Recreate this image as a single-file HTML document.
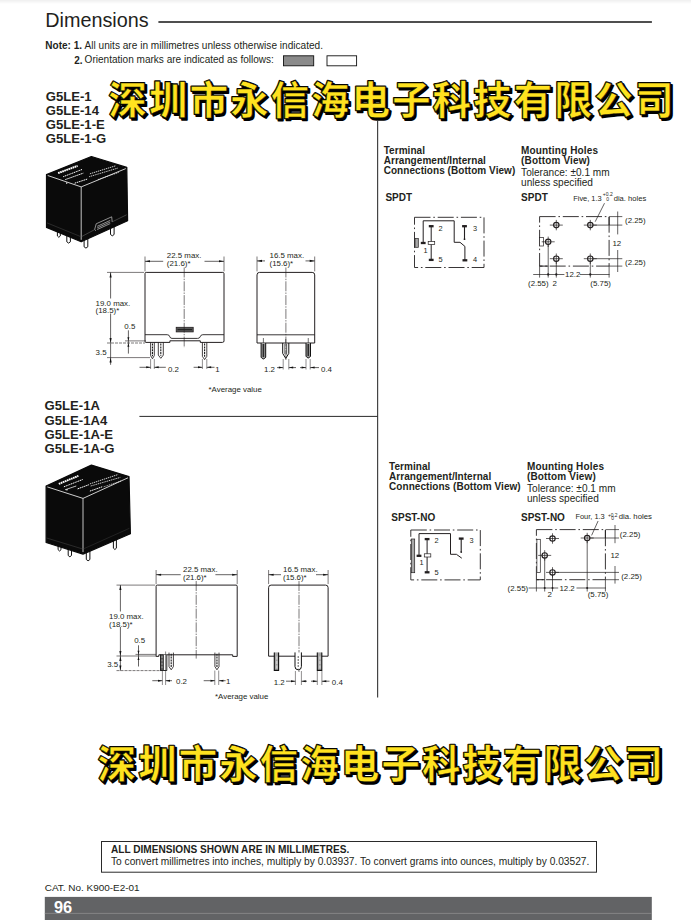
<!DOCTYPE html>
<html><head><meta charset="utf-8"><title>Dimensions</title>
<style>
html,body{margin:0;padding:0;background:#fff;}
body{width:691px;height:920px;position:relative;overflow:hidden;font-family:"Liberation Sans",sans-serif;color:#231f20;}
.t{position:absolute;white-space:nowrap;}
svg{position:absolute;left:0;top:0;}
svg text{font-family:"Liberation Sans",sans-serif;}
svg text.wm{font-family:"Liberation Sans","Noto Sans CJK SC",sans-serif;font-weight:bold;font-size:38.2px;letter-spacing:2.33px;}
</style></head><body>
<svg width="691" height="920" viewBox="0 0 691 920">
<defs><linearGradient id="tg" x1="0" y1="0" x2="0" y2="1"><stop offset="0" stop-color="#efefef"/><stop offset="1" stop-color="#fff"/></linearGradient></defs>
<rect x="0" y="0" width="691" height="4" fill="url(#tg)"/>
<line x1="158.4" y1="22.05" x2="651.9" y2="22.05" stroke="#141414" stroke-width="1.4" /><rect x="283.5" y="55.8" width="30.2" height="10.0" stroke="#111" stroke-width="0.9" fill="#8a8a8a" /><rect x="327.0" y="55.8" width="29.6" height="10.0" stroke="#111" stroke-width="0.9" fill="#fff" /><line x1="377.65" y1="121.0" x2="377.65" y2="697.4" stroke="#2a2a2a" stroke-width="1.05" /><line x1="139.4" y1="416.4" x2="377.65" y2="416.4" stroke="#2a2a2a" stroke-width="1.0" /><rect x="101.5" y="841.5" width="495.0" height="30.7" stroke="#2a2a2a" stroke-width="1.0" fill="none" /><rect x="44.8" y="896.9" width="607" height="24" fill="#626365"/><rect x="44.8" y="912.9" width="607" height="0.8" fill="#8e8e8e"/>
<path d="M57.4,228 V236.0 q1.45,2.6 2.90,0 V228" fill="#fff" stroke="#111" stroke-width="1"/><path d="M66.8,232 V241.8 q1.80,2.6 3.60,0 V232" fill="#fff" stroke="#111" stroke-width="1"/><path d="M84.1,236 V246.8 q1.85,2.6 3.70,0 V236" fill="#fff" stroke="#111" stroke-width="1"/><path d="M110.5,222 V234.5 q1.80,2.6 3.60,0 V222" fill="#fff" stroke="#111" stroke-width="1"/><polygon points="46.5,174.6 91.4,156.5 126.8,167.4 127.6,220.8 81.2,241.8 46.5,227.4" fill="#0a0a0a" stroke="#0a0a0a" stroke-width="1.2" stroke-linejoin="round"/><path d="M47.7,175.5 L81.2,186.9 L125.8,168.6" fill="none" stroke="#fff" stroke-width="0.8"/><path d="M81.2,186.9 V239.8" fill="none" stroke="#f2f2f2" stroke-width="0.8"/><line x1="58.1" y1="173.1" x2="77.6" y2="165.9" stroke="#fff" stroke-width="1.9" stroke-dasharray="1.7 0.5"/><line x1="63.2" y1="176.7" x2="82.0" y2="169.5" stroke="#fff" stroke-width="1.0" stroke-dasharray="1.3 0.6"/><line x1="65.3" y1="179.6" x2="83.4" y2="173.1" stroke="#fff" stroke-width="1.0" stroke-dasharray="1.5 0.6"/><line x1="89.9" y1="173.8" x2="115.3" y2="165.9" stroke="#fff" stroke-width="0.8" stroke-dasharray="1.4 0.7"/><line x1="89.2" y1="176.7" x2="118.1" y2="168.0" stroke="#fff" stroke-width="0.8" stroke-dasharray="1.2 0.7"/><line x1="74.7" y1="183.2" x2="87.8" y2="178.9" stroke="#fff" stroke-width="1.0" stroke-dasharray="1.6 0.7"/><line x1="97.9" y1="179.6" x2="118.9" y2="172.4" stroke="#fff" stroke-width="0.7" stroke-dasharray="1.1 0.8"/><line x1="66.0" y1="183.3" x2="67.3" y2="182.9" stroke="#fff" stroke-width="1.2" /><path d="M47.0,222.9 L81.2,236.8" fill="none" stroke="#4a4a4a" stroke-width="0.5"/><path d="M94.7,229.3 l1.5,-5.5 l15.5,-7 l0.5,5.2 M95.7,230.8 l-1,-1.5 M97.2,226.3 l13,-5.9 M97.2,227.9 l13,-5.9 M97.2,229.5 l13,-5.9" stroke="#e6e6e6" stroke-width="0.6" fill="none"/><path d="M81.2,236.8 L94.7,229.6 M112.5,221.7 L126.6,214.8" stroke="#777" stroke-width="0.5" fill="none"/>
<path d="M58.1,540 V549.7 q1.45,2.6 2.90,0 V540" fill="#fff" stroke="#111" stroke-width="1"/><path d="M68.2,545 V555.5 q1.65,2.6 3.30,0 V545" fill="#fff" stroke="#111" stroke-width="1"/><path d="M86.3,548 V559.5 q1.80,2.6 3.60,0 V548" fill="#fff" stroke="#111" stroke-width="1"/><path d="M113.4,530 V548.2 q1.50,2.6 3.00,0 V530" fill="#fff" stroke="#111" stroke-width="1"/><polygon points="46.1,486.0 91.4,465.1 129.0,476.6 130.4,533.8 83.0,554.1 46.1,542.5" fill="#0a0a0a" stroke="#0a0a0a" stroke-width="1.2" stroke-linejoin="round"/><path d="M47.3,486.9 L83.0,498.4 L128.0,477.8" fill="none" stroke="#fff" stroke-width="0.8"/><path d="M83.0,498.4 V552.1" fill="none" stroke="#f2f2f2" stroke-width="0.8"/><line x1="58.8" y1="483.9" x2="78.4" y2="475.9" stroke="#fff" stroke-width="1.9" stroke-dasharray="1.7 0.5"/><line x1="63.9" y1="486.8" x2="82.7" y2="479.5" stroke="#fff" stroke-width="1.0" stroke-dasharray="1.3 0.6"/><line x1="65.3" y1="489.7" x2="76.2" y2="486.0" stroke="#fff" stroke-width="1.0" stroke-dasharray="1.5 0.6"/><line x1="77.6" y1="488.9" x2="89.2" y2="484.6" stroke="#fff" stroke-width="1.0" stroke-dasharray="1.5 0.6"/><line x1="89.9" y1="483.9" x2="118.1" y2="474.5" stroke="#fff" stroke-width="0.8" stroke-dasharray="1.4 0.7"/><line x1="90.7" y1="486.0" x2="120.3" y2="477.4" stroke="#fff" stroke-width="0.8" stroke-dasharray="1.2 0.7"/><line x1="89.9" y1="491.1" x2="102.2" y2="486.8" stroke="#fff" stroke-width="1.0" stroke-dasharray="1.6 0.7"/><line x1="103.7" y1="486.8" x2="121.0" y2="481.0" stroke="#fff" stroke-width="0.7" stroke-dasharray="1.1 0.8"/><line x1="66.3" y1="490.0" x2="67.6" y2="489.6" stroke="#fff" stroke-width="1.2" /><path d="M46.6,538.0 L83.0,549.1" fill="none" stroke="#4a4a4a" stroke-width="0.5"/><path d="M83.0,549.1 L129.4,528.3" fill="none" stroke="#3a3a3a" stroke-width="0.5"/>
<path d="M145.0,341.4 V273.59999999999997 Q145.0,272.4 146.2,272.4 H222.8 Q224.0,272.4 224.0,273.59999999999997 V340.9 Q224.0,342.4 222.5,342.4 H200.3 V340.8 H169.9 V342.4 H146.0 Q145.0,342.4 145.0,341.4" stroke="#231f20" stroke-width="1.0" fill="none" /><path d="M145.0,334.7 H167.2 Q169.4,334.7 169.9,336.9 Q170.3,338.4 172,338.4 H197.6 Q199.6,338.4 200.1,336.9 Q200.7,334.7 202.8,334.7 H224.0" stroke="#231f20" stroke-width="0.9" fill="none" /><rect x="176.2" y="327.3" width="17" height="4.6" stroke="#231f20" stroke-width="0.8" fill="#555" /><line x1="177.5" y1="329.6" x2="192" y2="329.6" stroke="#222" stroke-width="1.2" /><line x1="184.2" y1="267.5" x2="184.2" y2="347.8" stroke="#231f20" stroke-width="0.6" stroke-dasharray="10 1.2 1.4 1.2"/><path d="M150.6,342.4 V355.6 L152.45,358.8 L154.3,355.6 V342.4" stroke="#231f20" stroke-width="0.85" fill="none" /><line x1="152.45" y1="343.59999999999997" x2="152.45" y2="356.2" stroke="#1a1a1a" stroke-width="1.1" stroke-dasharray="2 0.8"/><path d="M158.3,342.4 V355.1 L160.8,358.3 L163.3,355.1 V342.4" stroke="#231f20" stroke-width="0.85" fill="none" /><line x1="160.8" y1="343.59999999999997" x2="160.8" y2="355.7" stroke="#1a1a1a" stroke-width="1.1" stroke-dasharray="2 0.8"/><path d="M202.4,342.4 V356.40000000000003 L204.60000000000002,359.6 L206.8,356.40000000000003 V342.4" stroke="#231f20" stroke-width="0.85" fill="none" /><line x1="204.60000000000002" y1="343.59999999999997" x2="204.60000000000002" y2="357.0" stroke="#1a1a1a" stroke-width="1.1" stroke-dasharray="2 0.8"/><line x1="145.0" y1="256.5" x2="145.0" y2="271.4" stroke="#231f20" stroke-width="0.6" /><line x1="224.0" y1="256.5" x2="224.0" y2="271.4" stroke="#231f20" stroke-width="0.6" /><line x1="145.0" y1="261.3" x2="163.2" y2="261.3" stroke="#231f20" stroke-width="0.7" /><line x1="204.5" y1="261.3" x2="224.0" y2="261.3" stroke="#231f20" stroke-width="0.7" /><polygon points="145.0,261.3 150.0,260.25 150.0,262.35" fill="#111"/><polygon points="224.0,261.3 219.0,260.25 219.0,262.35" fill="#111"/><text x="166.8" y="258.4" font-size="7.9" text-anchor="start" font-weight="normal" fill="#231f20" >22.5 max.</text><text x="166.8" y="266.2" font-size="7.9" text-anchor="start" font-weight="normal" fill="#231f20" >(21.6)*</text><line x1="107" y1="272.4" x2="144.0" y2="272.4" stroke="#231f20" stroke-width="0.6" /><line x1="110.6" y1="272.4" x2="110.6" y2="298.5" stroke="#231f20" stroke-width="0.7" /><line x1="110.6" y1="313.5" x2="110.6" y2="364.8" stroke="#231f20" stroke-width="0.7" /><polygon points="110.6,272.4 109.55,277.4 111.64999999999999,277.4" fill="#111"/><polygon points="110.6,343.0 109.55,338.0 111.64999999999999,338.0" fill="#111"/><polygon points="110.6,357.6 109.55,362.6 111.64999999999999,362.6" fill="#111"/><text x="95.6" y="305.7" font-size="7.9" text-anchor="start" font-weight="normal" fill="#231f20" >19.0 max.</text><text x="95.6" y="313.3" font-size="7.9" text-anchor="start" font-weight="normal" fill="#231f20" >(18.5)*</text><line x1="107" y1="343.0" x2="145.0" y2="343.0" stroke="#231f20" stroke-width="0.6" stroke-dasharray="3 1"/><line x1="125" y1="340.9" x2="146.0" y2="340.9" stroke="#231f20" stroke-width="0.6" /><line x1="107" y1="357.6" x2="150" y2="357.6" stroke="#231f20" stroke-width="0.6" /><text x="124.3" y="329.0" font-size="7.9" text-anchor="start" font-weight="normal" fill="#231f20" >0.5</text><line x1="128.4" y1="330.3" x2="128.4" y2="353.6" stroke="#231f20" stroke-width="0.7" /><polygon points="128.4,340.8 127.4,337.2 129.4,337.2" fill="#111"/><polygon points="128.4,343.2 127.4,346.8 129.4,346.8" fill="#111"/><text x="95.6" y="355.2" font-size="7.9" text-anchor="start" font-weight="normal" fill="#231f20" >3.5</text><line x1="150.6" y1="359" x2="150.6" y2="369" stroke="#231f20" stroke-width="0.5" /><line x1="154.3" y1="359" x2="154.3" y2="369" stroke="#231f20" stroke-width="0.5" /><line x1="202.4" y1="359" x2="202.4" y2="369" stroke="#231f20" stroke-width="0.5" /><line x1="206.8" y1="359" x2="206.8" y2="369" stroke="#231f20" stroke-width="0.5" /><line x1="139.5" y1="367.3" x2="150.6" y2="367.3" stroke="#231f20" stroke-width="0.7" /><polygon points="150.6,367.3 146.2,366.3 146.2,368.3" fill="#111"/><line x1="154.3" y1="367.3" x2="165.8" y2="367.3" stroke="#231f20" stroke-width="0.7" /><polygon points="154.3,367.3 158.70000000000002,366.3 158.70000000000002,368.3" fill="#111"/><text x="167.9" y="372.1" font-size="7.9" text-anchor="start" font-weight="normal" fill="#231f20" >0.2</text><line x1="193.6" y1="367.3" x2="202.4" y2="367.3" stroke="#231f20" stroke-width="0.7" /><polygon points="202.4,367.3 198.0,366.3 198.0,368.3" fill="#111"/><line x1="206.8" y1="367.3" x2="214.5" y2="367.3" stroke="#231f20" stroke-width="0.7" /><polygon points="206.8,367.3 211.20000000000002,366.3 211.20000000000002,368.3" fill="#111"/><text x="215.3" y="372.1" font-size="7.9" text-anchor="start" font-weight="normal" fill="#231f20" >1</text><path d="M257.0,343.0 V274.9 Q257.0,272.4 259.5,272.4 H312.2 Q314.7,272.4 314.7,274.9 V343.0 Z" stroke="#231f20" stroke-width="1.0" fill="none" /><line x1="257.0" y1="334.8" x2="314.7" y2="334.8" stroke="#231f20" stroke-width="0.9" /><line x1="285.9" y1="267.5" x2="285.9" y2="360" stroke="#231f20" stroke-width="0.6" stroke-dasharray="10 1.2 1.4 1.2"/><path d="M261.1,343.0 V357.2 Q263.4,360.7 265.7,357.2 V343.0" stroke="#111" stroke-width="1.0" fill="#9a9a9a" /><line x1="263.4" y1="344.0" x2="263.4" y2="357.0" stroke="#2a2a2a" stroke-width="1.5" /><line x1="263.4" y1="338.0" x2="263.4" y2="343.0" stroke="#333" stroke-width="0.7" /><path d="M282.7,343.0 V353.4 L285.75,358.4 L288.8,353.4 V343.0" stroke="#111" stroke-width="1.0" fill="none" /><line x1="284.85" y1="344.0" x2="284.85" y2="354.4" stroke="#333" stroke-width="0.8" /><line x1="286.65" y1="344.0" x2="286.65" y2="354.4" stroke="#333" stroke-width="0.8" /><line x1="285.75" y1="339.0" x2="285.75" y2="343.0" stroke="#333" stroke-width="0.7" /><path d="M306.0,343.0 V356.2 Q308.25,359.7 310.5,356.2 V343.0" stroke="#111" stroke-width="1.0" fill="#9a9a9a" /><line x1="308.25" y1="344.0" x2="308.25" y2="356.0" stroke="#2a2a2a" stroke-width="1.5" /><line x1="308.25" y1="338.0" x2="308.25" y2="343.0" stroke="#333" stroke-width="0.7" /><line x1="257.0" y1="256.5" x2="257.0" y2="271.4" stroke="#231f20" stroke-width="0.6" /><line x1="314.7" y1="256.5" x2="314.7" y2="271.4" stroke="#231f20" stroke-width="0.6" /><line x1="257.0" y1="260.9" x2="265" y2="260.9" stroke="#231f20" stroke-width="0.7" /><line x1="305.5" y1="260.9" x2="314.7" y2="260.9" stroke="#231f20" stroke-width="0.7" /><polygon points="257.0,260.9 262.0,259.84999999999997 262.0,261.95" fill="#111"/><polygon points="314.7,260.9 309.7,259.84999999999997 309.7,261.95" fill="#111"/><text x="269.5" y="258.2" font-size="7.9" text-anchor="start" font-weight="normal" fill="#231f20" >16.5 max.</text><text x="269.5" y="266.2" font-size="7.9" text-anchor="start" font-weight="normal" fill="#231f20" >(15.6)*</text><line x1="283.2" y1="359" x2="283.2" y2="369.5" stroke="#231f20" stroke-width="0.5" /><line x1="288.8" y1="359" x2="288.8" y2="369.5" stroke="#231f20" stroke-width="0.5" /><line x1="306.0" y1="359" x2="306.0" y2="369.5" stroke="#231f20" stroke-width="0.5" /><line x1="310.2" y1="359" x2="310.2" y2="369.5" stroke="#231f20" stroke-width="0.5" /><text x="264.0" y="372.3" font-size="7.9" text-anchor="start" font-weight="normal" fill="#231f20" >1.2</text><line x1="277" y1="367.6" x2="283.2" y2="367.6" stroke="#231f20" stroke-width="0.7" /><polygon points="283.2,367.6 278.8,366.6 278.8,368.6" fill="#111"/><line x1="288.8" y1="367.6" x2="296" y2="367.6" stroke="#231f20" stroke-width="0.7" /><polygon points="288.8,367.6 293.2,366.6 293.2,368.6" fill="#111"/><line x1="300" y1="367.6" x2="306.0" y2="367.6" stroke="#231f20" stroke-width="0.7" /><polygon points="306.0,367.6 301.6,366.6 301.6,368.6" fill="#111"/><line x1="310.2" y1="367.6" x2="319" y2="367.6" stroke="#231f20" stroke-width="0.7" /><polygon points="310.2,367.6 314.59999999999997,366.6 314.59999999999997,368.6" fill="#111"/><text x="321.0" y="372.3" font-size="7.9" text-anchor="start" font-weight="normal" fill="#231f20" >0.4</text><text x="208.5" y="391.6" font-size="7.9" text-anchor="start" font-weight="normal" fill="#231f20" >*Average value</text><path d="M156.1,656.4 V586.3000000000001 Q156.1,585.1 157.29999999999998,585.1 H236.0 Q237.2,585.1 237.2,586.3000000000001 V656.4 H232.7 V654.8 H158.8 V656.4 Z" stroke="#231f20" stroke-width="1.0" fill="none" /><line x1="196.2" y1="581" x2="196.2" y2="658.6" stroke="#231f20" stroke-width="0.6" stroke-dasharray="10 1.2 1.4 1.2"/><path d="M160.5,654.8 V670.5 H166.8 V654.8" stroke="#111" stroke-width="0.9" fill="#fff" /><rect x="160.5" y="654.8" width="3.2" height="15.7" stroke="#111" stroke-width="0.5" fill="#555" /><line x1="165.6" y1="651.5" x2="165.6" y2="670" stroke="#333" stroke-width="0.6" /><line x1="162.0" y1="656" x2="162.0" y2="669.5" stroke="#ccc" stroke-width="0.7" stroke-dasharray="2 1.4"/><path d="M169.0,652.6 V666.5999999999999 L171.2,669.8 L173.4,666.5999999999999 V652.6" stroke="#231f20" stroke-width="0.85" fill="none" /><line x1="171.2" y1="653.8000000000001" x2="171.2" y2="667.1999999999999" stroke="#1a1a1a" stroke-width="1.1" stroke-dasharray="2 0.8"/><path d="M214.9,652.6 V666.5999999999999 L216.95,669.8 L219.0,666.5999999999999 V652.6" stroke="#231f20" stroke-width="0.85" fill="none" /><line x1="216.95" y1="653.8000000000001" x2="216.95" y2="667.1999999999999" stroke="#1a1a1a" stroke-width="1.1" stroke-dasharray="2 0.8"/><line x1="156.1" y1="570" x2="156.1" y2="584.1" stroke="#231f20" stroke-width="0.6" /><line x1="237.2" y1="570" x2="237.2" y2="584.1" stroke="#231f20" stroke-width="0.6" /><line x1="156.1" y1="574.7" x2="180.7" y2="574.7" stroke="#231f20" stroke-width="0.7" /><line x1="215.4" y1="574.7" x2="237.2" y2="574.7" stroke="#231f20" stroke-width="0.7" /><polygon points="156.1,574.7 161.1,573.6500000000001 161.1,575.75" fill="#111"/><polygon points="237.2,574.7 232.2,573.6500000000001 232.2,575.75" fill="#111"/><text x="183.0" y="572.1" font-size="7.9" text-anchor="start" font-weight="normal" fill="#231f20" >22.5 max.</text><text x="183.0" y="579.9" font-size="7.9" text-anchor="start" font-weight="normal" fill="#231f20" >(21.6)*</text><line x1="116.5" y1="585.1" x2="155.1" y2="585.1" stroke="#231f20" stroke-width="0.6" /><line x1="120.4" y1="585.1" x2="120.4" y2="611.5" stroke="#231f20" stroke-width="0.7" /><line x1="120.4" y1="627" x2="120.4" y2="670.6" stroke="#231f20" stroke-width="0.7" /><polygon points="120.4,585.1 119.35000000000001,590.1 121.45,590.1" fill="#111"/><polygon points="120.4,656.0 119.35000000000001,651.0 121.45,651.0" fill="#111"/><polygon points="120.4,656.0 119.35000000000001,661.0 121.45,661.0" fill="#111"/><polygon points="120.4,670.6 119.35000000000001,665.6 121.45,665.6" fill="#111"/><text x="109.0" y="619.1" font-size="7.9" text-anchor="start" font-weight="normal" fill="#231f20" >19.0 max.</text><text x="109.0" y="626.7" font-size="7.9" text-anchor="start" font-weight="normal" fill="#231f20" >(18.5)*</text><line x1="116.5" y1="656.0" x2="156.1" y2="656.0" stroke="#231f20" stroke-width="0.6" /><line x1="135.5" y1="654.4" x2="156.1" y2="654.4" stroke="#231f20" stroke-width="0.6" /><line x1="116.5" y1="670.6" x2="161.8" y2="670.6" stroke="#231f20" stroke-width="0.6" stroke-dasharray="3 1"/><text x="134.2" y="642.9" font-size="7.9" text-anchor="start" font-weight="normal" fill="#231f20" >0.5</text><line x1="138.5" y1="645.3" x2="138.5" y2="666.5" stroke="#231f20" stroke-width="0.7" /><polygon points="138.5,654.3 137.5,650.6999999999999 139.5,650.6999999999999" fill="#111"/><polygon points="138.5,656.4 137.5,660.0 139.5,660.0" fill="#111"/><text x="107.2" y="666.6" font-size="7.9" text-anchor="start" font-weight="normal" fill="#231f20" >3.5</text><line x1="162.4" y1="670.5" x2="162.4" y2="685" stroke="#231f20" stroke-width="0.5" /><line x1="165.6" y1="670.5" x2="165.6" y2="685" stroke="#231f20" stroke-width="0.5" /><line x1="214.8" y1="670.5" x2="214.8" y2="685" stroke="#231f20" stroke-width="0.5" /><line x1="218.7" y1="670.5" x2="218.7" y2="685" stroke="#231f20" stroke-width="0.5" /><line x1="152.3" y1="680.7" x2="162.4" y2="680.7" stroke="#231f20" stroke-width="0.7" /><polygon points="162.4,680.7 158.0,679.7 158.0,681.7" fill="#111"/><line x1="165.6" y1="680.7" x2="172" y2="680.7" stroke="#231f20" stroke-width="0.7" /><polygon points="165.6,680.7 170.0,679.7 170.0,681.7" fill="#111"/><text x="176.0" y="684.4" font-size="7.9" text-anchor="start" font-weight="normal" fill="#231f20" >0.2</text><line x1="203.7" y1="680.7" x2="214.9" y2="680.7" stroke="#231f20" stroke-width="0.7" /><polygon points="214.9,680.7 210.5,679.7 210.5,681.7" fill="#111"/><line x1="219.0" y1="680.7" x2="225.6" y2="680.7" stroke="#231f20" stroke-width="0.7" /><polygon points="219.0,680.7 223.4,679.7 223.4,681.7" fill="#111"/><text x="226.0" y="684.4" font-size="7.9" text-anchor="start" font-weight="normal" fill="#231f20" >1</text><path d="M268.6,656.2 V587.6 Q268.6,585.1 271.1,585.1 H325.6 Q328.1,585.1 328.1,587.6 V656.2 Z" stroke="#231f20" stroke-width="1.0" fill="none" /><line x1="299.0" y1="581" x2="299.0" y2="672" stroke="#231f20" stroke-width="0.6" stroke-dasharray="10 1.2 1.4 1.2"/><path d="M274.3,652.4 V670.4 H278.6 V652.4" stroke="#111" stroke-width="1.1" fill="#a6a6a6" /><line x1="276.85" y1="656.5" x2="276.85" y2="669.4" stroke="#e6e6e6" stroke-width="0.9" stroke-dasharray="3 1.5"/><path d="M295.0,652.4 V666.5999999999999 Q295.0,669.8 298.2,669.8 Q301.4,669.8 301.4,666.5999999999999 V652.4" stroke="#111" stroke-width="1.0" fill="#fff" /><line x1="298.2" y1="656" x2="298.2" y2="668.3" stroke="#333" stroke-width="0.8" stroke-dasharray="2 1"/><path d="M317.3,652.4 V670.4 H321.8 V652.4" stroke="#111" stroke-width="1.1" fill="#a6a6a6" /><line x1="319.95" y1="656.5" x2="319.95" y2="669.4" stroke="#e6e6e6" stroke-width="0.9" stroke-dasharray="3 1.5"/><line x1="268.6" y1="570" x2="268.6" y2="584.1" stroke="#231f20" stroke-width="0.6" /><line x1="328.1" y1="570" x2="328.1" y2="584.1" stroke="#231f20" stroke-width="0.6" /><line x1="268.6" y1="574.7" x2="281" y2="574.7" stroke="#231f20" stroke-width="0.7" /><line x1="316" y1="574.7" x2="328.1" y2="574.7" stroke="#231f20" stroke-width="0.7" /><polygon points="268.6,574.7 273.6,573.6500000000001 273.6,575.75" fill="#111"/><polygon points="328.1,574.7 323.1,573.6500000000001 323.1,575.75" fill="#111"/><text x="283.0" y="572.1" font-size="7.9" text-anchor="start" font-weight="normal" fill="#231f20" >16.5 max.</text><text x="283.0" y="579.9" font-size="7.9" text-anchor="start" font-weight="normal" fill="#231f20" >(15.6)*</text><line x1="295.4" y1="671" x2="295.4" y2="685" stroke="#231f20" stroke-width="0.5" /><line x1="301.4" y1="671" x2="301.4" y2="685" stroke="#231f20" stroke-width="0.5" /><line x1="317.3" y1="671" x2="317.3" y2="685" stroke="#231f20" stroke-width="0.5" /><line x1="321.9" y1="671" x2="321.9" y2="685" stroke="#231f20" stroke-width="0.5" /><text x="273.7" y="684.6" font-size="7.9" text-anchor="start" font-weight="normal" fill="#231f20" >1.2</text><line x1="286" y1="681.2" x2="295.4" y2="681.2" stroke="#231f20" stroke-width="0.7" /><polygon points="295.4,681.2 291.0,680.2 291.0,682.2" fill="#111"/><line x1="301.4" y1="681.2" x2="307" y2="681.2" stroke="#231f20" stroke-width="0.7" /><polygon points="301.4,681.2 305.79999999999995,680.2 305.79999999999995,682.2" fill="#111"/><line x1="311" y1="681.2" x2="317.3" y2="681.2" stroke="#231f20" stroke-width="0.7" /><polygon points="317.3,681.2 312.90000000000003,680.2 312.90000000000003,682.2" fill="#111"/><line x1="321.9" y1="681.2" x2="329.5" y2="681.2" stroke="#231f20" stroke-width="0.7" /><polygon points="321.9,681.2 326.29999999999995,680.2 326.29999999999995,682.2" fill="#111"/><text x="331.8" y="684.6" font-size="7.9" text-anchor="start" font-weight="normal" fill="#231f20" >0.4</text><text x="215.0" y="698.9" font-size="7.9" text-anchor="start" font-weight="normal" fill="#231f20" >*Average value</text><rect x="414.5" y="217.3" width="69.5" height="50.2" fill="none" stroke="#231f20" stroke-width="0.9" stroke-dasharray="16 2.8 1.6 2.8"/><rect x="415.0" y="238.6" width="3.3" height="8.7" stroke="#231f20" stroke-width="0.7" fill="#a8a8a8" /><rect x="420.8" y="241.85" width="4.8" height="2.3" fill="#231f20"/><path d="M423.2,243 V220.8 H454.2 V242.3 H460 L464.9,246.4 V260.3" stroke="#231f20" stroke-width="1.0" fill="none" /><rect x="428.8" y="225.04999999999998" width="4.8" height="2.3" fill="#231f20"/><rect x="428.8" y="258.75" width="4.8" height="2.3" fill="#231f20"/><line x1="431.2" y1="226.2" x2="431.2" y2="259.9" stroke="#231f20" stroke-width="1.0" /><rect x="428.2" y="241.4" width="6.5" height="3.2" stroke="#231f20" stroke-width="0.7" fill="#fff" /><rect x="462.1" y="225.04999999999998" width="4.8" height="2.3" fill="#231f20"/><line x1="464.5" y1="226.2" x2="464.5" y2="239.2" stroke="#231f20" stroke-width="1.1" /><circle cx="464.5" cy="239.2" r="0.9" fill="#231f20"/><rect x="462.5" y="259.15000000000003" width="4.8" height="2.3" fill="#231f20"/><text x="438.4" y="230.8" font-size="7.4" text-anchor="start" font-weight="normal" fill="#231f20" >2</text><text x="472.9" y="230.8" font-size="7.4" text-anchor="start" font-weight="normal" fill="#231f20" >3</text><text x="423.5" y="253.2" font-size="7.4" text-anchor="start" font-weight="normal" fill="#231f20" >1</text><text x="438.4" y="262.2" font-size="7.4" text-anchor="start" font-weight="normal" fill="#231f20" >5</text><text x="472.9" y="262.2" font-size="7.4" text-anchor="start" font-weight="normal" fill="#231f20" >4</text><rect x="539.6" y="216.6" width="69.5" height="49.50000000000003" fill="none" stroke="#231f20" stroke-width="0.9" stroke-dasharray="16 2.8 1.6 2.8"/><rect x="539.6" y="237.4" width="4.0" height="8.6" stroke="#231f20" stroke-width="0.7" fill="#fff" /><line x1="609.1" y1="216.6" x2="622.3" y2="216.6" stroke="#231f20" stroke-width="0.7" /><line x1="590.3" y1="225.1" x2="622.3" y2="225.1" stroke="#231f20" stroke-width="0.7" /><line x1="590.3" y1="258.7" x2="622.3" y2="258.7" stroke="#231f20" stroke-width="0.7" /><line x1="609.1" y1="266.1" x2="622.3" y2="266.1" stroke="#231f20" stroke-width="0.7" /><line x1="617.7" y1="211.5" x2="617.7" y2="234.4" stroke="#231f20" stroke-width="0.7" /><line x1="617.7" y1="250" x2="617.7" y2="272" stroke="#231f20" stroke-width="0.7" /><line x1="609.1" y1="217" x2="609.1" y2="225" stroke="#231f20" stroke-width="0.9" /><text x="612.4" y="245.8" font-size="7.9" text-anchor="start" font-weight="normal" fill="#231f20" >12</text><text x="625.0" y="223.2" font-size="7.9" text-anchor="start" font-weight="normal" fill="#231f20" >(2.25)</text><text x="625.0" y="264.9" font-size="7.9" text-anchor="start" font-weight="normal" fill="#231f20" >(2.25)</text><line x1="533.2" y1="274.5" x2="564.4" y2="274.5" stroke="#231f20" stroke-width="0.7" /><line x1="580" y1="274.5" x2="609.6" y2="274.5" stroke="#231f20" stroke-width="0.7" /><text x="565.0" y="277.3" font-size="7.9" text-anchor="start" font-weight="normal" fill="#231f20" >12.2</text><line x1="539.6" y1="266.1" x2="539.6" y2="277.6" stroke="#231f20" stroke-width="0.7" /><line x1="548.2" y1="241.8" x2="548.2" y2="277.6" stroke="#231f20" stroke-width="0.7" /><line x1="556.3" y1="258.7" x2="556.3" y2="277.6" stroke="#231f20" stroke-width="0.7" /><line x1="590.3" y1="258.7" x2="590.3" y2="277.6" stroke="#231f20" stroke-width="0.7" /><line x1="609.1" y1="266.1" x2="609.1" y2="277.6" stroke="#231f20" stroke-width="0.7" /><line x1="539.6" y1="266.1" x2="548.2" y2="266.1" stroke="#231f20" stroke-width="1.0" /><circle cx="548.2" cy="274.5" r="1.15" fill="#231f20"/><circle cx="556.3" cy="274.5" r="1.15" fill="#231f20"/><circle cx="590.3" cy="274.5" r="1.15" fill="#231f20"/><text x="528.0" y="285.8" font-size="7.9" text-anchor="start" font-weight="normal" fill="#231f20" >(2.55)</text><text x="552.6" y="285.8" font-size="7.9" text-anchor="start" font-weight="normal" fill="#231f20" >2</text><text x="590.3" y="285.8" font-size="7.9" text-anchor="start" font-weight="normal" fill="#231f20" >(5.75)</text><circle cx="556.3" cy="225.1" r="2.7" fill="#fff" stroke="#231f20" stroke-width="1.15"/><line x1="549.8" y1="225.1" x2="562.8" y2="225.1" stroke="#231f20" stroke-width="0.7" /><line x1="556.3" y1="219.9" x2="556.3" y2="230.29999999999998" stroke="#231f20" stroke-width="0.7" /><circle cx="590.3" cy="225.1" r="2.7" fill="#fff" stroke="#231f20" stroke-width="1.15"/><line x1="583.8" y1="225.1" x2="596.8" y2="225.1" stroke="#231f20" stroke-width="0.7" /><line x1="590.3" y1="219.9" x2="590.3" y2="230.29999999999998" stroke="#231f20" stroke-width="0.7" /><circle cx="548.2" cy="241.8" r="2.7" fill="#fff" stroke="#231f20" stroke-width="1.15"/><line x1="541.7" y1="241.8" x2="554.7" y2="241.8" stroke="#231f20" stroke-width="0.7" /><line x1="548.2" y1="236.60000000000002" x2="548.2" y2="247.0" stroke="#231f20" stroke-width="0.7" /><circle cx="556.3" cy="258.7" r="2.7" fill="#fff" stroke="#231f20" stroke-width="1.15"/><line x1="549.8" y1="258.7" x2="562.8" y2="258.7" stroke="#231f20" stroke-width="0.7" /><line x1="556.3" y1="253.5" x2="556.3" y2="263.9" stroke="#231f20" stroke-width="0.7" /><circle cx="590.3" cy="258.7" r="2.7" fill="#fff" stroke="#231f20" stroke-width="1.15"/><line x1="583.8" y1="258.7" x2="596.8" y2="258.7" stroke="#231f20" stroke-width="0.7" /><line x1="590.3" y1="253.5" x2="590.3" y2="263.9" stroke="#231f20" stroke-width="0.7" /><line x1="604.5" y1="203.2" x2="595.2" y2="221.7" stroke="#231f20" stroke-width="0.7" /><text x="573.2" y="200.8" font-size="7.45" text-anchor="start" font-weight="normal" fill="#231f20" >Five, 1.3</text><text x="602.8" y="196.3" font-size="5.0" text-anchor="start" font-weight="normal" fill="#231f20" >+0.2</text><text x="606.2" y="201.0" font-size="5.0" text-anchor="start" font-weight="normal" fill="#231f20" >0</text><text x="613.7" y="200.8" font-size="7.6" text-anchor="start" font-weight="normal" fill="#231f20" >dia. holes</text><rect x="410.8" y="530.0" width="69.5" height="49.9" fill="none" stroke="#231f20" stroke-width="0.9" stroke-dasharray="16 2.8 1.6 2.8"/><rect x="411.3" y="539.0" width="3.4" height="33.7" stroke="#231f20" stroke-width="0.7" fill="#a8a8a8" /><rect x="416.6" y="554.65" width="4.8" height="2.3" fill="#231f20"/><path d="M419,555.8 V533.6 H450.5 V554.3 H456.4 L461.8,558.2" stroke="#231f20" stroke-width="1.0" fill="none" /><rect x="424.70000000000005" y="537.95" width="4.8" height="2.3" fill="#231f20"/><rect x="424.70000000000005" y="571.15" width="4.8" height="2.3" fill="#231f20"/><line x1="427.1" y1="539.1" x2="427.1" y2="572.3" stroke="#231f20" stroke-width="1.0" /><rect x="424.3" y="553.8" width="6.5" height="3.2" stroke="#231f20" stroke-width="0.7" fill="#fff" /><rect x="458.8" y="537.45" width="4.8" height="2.3" fill="#231f20"/><line x1="461.2" y1="538.6" x2="461.2" y2="552.1" stroke="#231f20" stroke-width="1.1" /><circle cx="461.2" cy="552.1" r="0.9" fill="#231f20"/><text x="434.6" y="542.9" font-size="7.4" text-anchor="start" font-weight="normal" fill="#231f20" >2</text><text x="469.4" y="542.9" font-size="7.4" text-anchor="start" font-weight="normal" fill="#231f20" >3</text><text x="419.6" y="565.3" font-size="7.4" text-anchor="start" font-weight="normal" fill="#231f20" >1</text><text x="434.6" y="575.0" font-size="7.4" text-anchor="start" font-weight="normal" fill="#231f20" >5</text><rect x="536.4" y="529.6" width="69.0" height="50.10000000000002" fill="none" stroke="#231f20" stroke-width="0.9" stroke-dasharray="16 2.8 1.6 2.8"/><rect x="536.9" y="539.3" width="3.4" height="33.1" stroke="#231f20" stroke-width="0.7" fill="#fff" /><line x1="605.4" y1="529.6" x2="619" y2="529.6" stroke="#231f20" stroke-width="0.7" /><line x1="587.2" y1="538.0" x2="619" y2="538.0" stroke="#231f20" stroke-width="0.7" /><line x1="552.5" y1="572.4" x2="619" y2="572.4" stroke="#231f20" stroke-width="0.7" /><line x1="605.4" y1="579.7" x2="619" y2="579.7" stroke="#231f20" stroke-width="0.7" /><line x1="615.0" y1="525" x2="615.0" y2="543.2" stroke="#231f20" stroke-width="0.7" /><line x1="615.0" y1="566" x2="615.0" y2="583.6" stroke="#231f20" stroke-width="0.7" /><line x1="605.4" y1="530" x2="605.4" y2="538" stroke="#231f20" stroke-width="0.9" /><text x="610.4" y="558.1" font-size="7.9" text-anchor="start" font-weight="normal" fill="#231f20" >12</text><text x="619.8" y="537.3" font-size="7.9" text-anchor="start" font-weight="normal" fill="#231f20" >(2.25)</text><text x="621.2" y="579.0" font-size="7.9" text-anchor="start" font-weight="normal" fill="#231f20" >(2.25)</text><line x1="528.6" y1="588.0" x2="558.2" y2="588.0" stroke="#231f20" stroke-width="0.7" /><line x1="576.5" y1="588.0" x2="606" y2="588.0" stroke="#231f20" stroke-width="0.7" /><text x="559.4" y="590.8" font-size="7.9" text-anchor="start" font-weight="normal" fill="#231f20" >12.2</text><line x1="536.4" y1="579.7" x2="536.4" y2="591.5" stroke="#231f20" stroke-width="0.7" /><line x1="544.7" y1="555.4" x2="544.7" y2="591.5" stroke="#231f20" stroke-width="0.7" /><line x1="552.5" y1="572.4" x2="552.5" y2="591.5" stroke="#231f20" stroke-width="0.7" /><line x1="587.2" y1="538.0" x2="587.2" y2="591.5" stroke="#231f20" stroke-width="0.7" /><line x1="605.4" y1="579.7" x2="605.4" y2="591.5" stroke="#231f20" stroke-width="0.7" /><line x1="536.4" y1="579.7" x2="544.7" y2="579.7" stroke="#231f20" stroke-width="1.0" /><circle cx="544.7" cy="588.0" r="1" fill="#231f20"/><circle cx="552.5" cy="588.0" r="1" fill="#231f20"/><circle cx="587.2" cy="588.0" r="1" fill="#231f20"/><text x="507.6" y="590.7" font-size="7.9" text-anchor="start" font-weight="normal" fill="#231f20" >(2.55)</text><text x="547.6" y="596.8" font-size="7.9" text-anchor="start" font-weight="normal" fill="#231f20" >2</text><text x="587.7" y="596.8" font-size="7.9" text-anchor="start" font-weight="normal" fill="#231f20" >(5.75)</text><circle cx="552.5" cy="538.5" r="2.7" fill="#fff" stroke="#231f20" stroke-width="1.15"/><line x1="546.0" y1="538.5" x2="559.0" y2="538.5" stroke="#231f20" stroke-width="0.7" /><line x1="552.5" y1="533.3" x2="552.5" y2="543.7" stroke="#231f20" stroke-width="0.7" /><circle cx="587.2" cy="538.0" r="2.7" fill="#fff" stroke="#231f20" stroke-width="1.15"/><line x1="580.7" y1="538.0" x2="593.7" y2="538.0" stroke="#231f20" stroke-width="0.7" /><line x1="587.2" y1="532.8" x2="587.2" y2="543.2" stroke="#231f20" stroke-width="0.7" /><circle cx="544.7" cy="555.4" r="2.7" fill="#fff" stroke="#231f20" stroke-width="1.15"/><line x1="538.2" y1="555.4" x2="551.2" y2="555.4" stroke="#231f20" stroke-width="0.7" /><line x1="544.7" y1="550.1999999999999" x2="544.7" y2="560.6" stroke="#231f20" stroke-width="0.7" /><circle cx="552.5" cy="572.4" r="2.7" fill="#fff" stroke="#231f20" stroke-width="1.15"/><line x1="546.0" y1="572.4" x2="559.0" y2="572.4" stroke="#231f20" stroke-width="0.7" /><line x1="552.5" y1="567.1999999999999" x2="552.5" y2="577.6" stroke="#231f20" stroke-width="0.7" /><line x1="598.1" y1="521" x2="591.6" y2="535.4" stroke="#231f20" stroke-width="0.7" /><text x="575.4" y="518.9" font-size="7.45" text-anchor="start" font-weight="normal" fill="#231f20" >Four, 1.3</text><text x="607.9" y="516.5" font-size="4.9" text-anchor="start" font-weight="normal" fill="#231f20" >+0.2</text><text x="611.2" y="519.8" font-size="4.9" text-anchor="start" font-weight="normal" fill="#231f20" >0</text><text x="618.7" y="518.9" font-size="7.75" text-anchor="start" font-weight="normal" fill="#231f20" >dia. holes</text>
<text class="wm" x="110.5" y="116.3" fill="#000" stroke="#000" stroke-width="2" stroke-linejoin="round">深圳市永信海电子科技有限公司</text><text class="wm" x="108.6" y="114.4" fill="#000" stroke="#000" stroke-width="2" stroke-linejoin="round">深圳市永信海电子科技有限公司</text><text class="wm" x="108.6" y="114.4" fill="#ffe21f" stroke="#1a1400" stroke-width="0.5">深圳市永信海电子科技有限公司</text>
<text class="wm" x="99.7" y="779.8" fill="#000" stroke="#000" stroke-width="2" stroke-linejoin="round">深圳市永信海电子科技有限公司</text><text class="wm" x="97.8" y="777.9" fill="#000" stroke="#000" stroke-width="2" stroke-linejoin="round">深圳市永信海电子科技有限公司</text><text class="wm" x="97.8" y="777.9" fill="#ffe21f" stroke="#1a1400" stroke-width="0.5">深圳市永信海电子科技有限公司</text>
</svg>
<div class="t" style="left:45.3px;top:11.34px;font-size:19.8px;line-height:19.8px;">Dimensions</div><div class="t" style="left:45.3px;top:41.03px;font-size:10px;line-height:10px;font-weight:bold;">Note: 1.</div><div class="t" style="left:84.6px;top:40.95px;font-size:10.1px;line-height:10.1px;">All units are in millimetres unless otherwise indicated.</div><div class="t" style="left:74.3px;top:55.53px;font-size:10px;line-height:10px;font-weight:bold;">2.</div><div class="t" style="left:84.6px;top:55.49px;font-size:10.05px;line-height:10.05px;">Orientation marks are indicated as follows:</div><div class="t" style="left:45.8px;top:89.61px;font-size:13.1px;line-height:13.1px;font-weight:bold;">G5LE-1</div><div class="t" style="left:45.8px;top:103.86px;font-size:13.1px;line-height:13.1px;font-weight:bold;">G5LE-14</div><div class="t" style="left:45.8px;top:118.11px;font-size:13.1px;line-height:13.1px;font-weight:bold;">G5LE-1-E</div><div class="t" style="left:45.8px;top:132.36px;font-size:13.1px;line-height:13.1px;font-weight:bold;">G5LE-1-G</div><div class="t" style="left:44.6px;top:399.21px;font-size:13.1px;line-height:13.1px;font-weight:bold;">G5LE-1A</div><div class="t" style="left:44.6px;top:413.61px;font-size:13.1px;line-height:13.1px;font-weight:bold;">G5LE-1A4</div><div class="t" style="left:44.6px;top:428.01px;font-size:13.1px;line-height:13.1px;font-weight:bold;">G5LE-1A-E</div><div class="t" style="left:44.6px;top:442.41px;font-size:13.1px;line-height:13.1px;font-weight:bold;">G5LE-1A-G</div><div class="t" style="left:383.7px;top:145.53px;font-size:10.0px;line-height:10.0px;font-weight:bold;letter-spacing:0.05px;">Terminal</div><div class="t" style="left:383.7px;top:155.53px;font-size:10.0px;line-height:10.0px;font-weight:bold;letter-spacing:0.05px;">Arrangement/Internal</div><div class="t" style="left:383.7px;top:165.53px;font-size:10.0px;line-height:10.0px;font-weight:bold;letter-spacing:0.05px;">Connections (Bottom View)</div><div class="t" style="left:521.1px;top:145.53px;font-size:10.0px;line-height:10.0px;font-weight:bold;letter-spacing:0.15px;">Mounting Holes</div><div class="t" style="left:521.1px;top:155.53px;font-size:10.0px;line-height:10.0px;font-weight:bold;letter-spacing:0.15px;">(Bottom View)</div><div class="t" style="left:521.1px;top:167.75px;font-size:10.1px;line-height:10.1px;">Tolerance: ±0.1 mm</div><div class="t" style="left:521.1px;top:177.55px;font-size:10.1px;line-height:10.1px;">unless specified</div><div class="t" style="left:385.4px;top:192.84px;font-size:10px;line-height:10px;font-weight:bold;">SPDT</div><div class="t" style="left:521.1px;top:192.84px;font-size:10px;line-height:10px;font-weight:bold;">SPDT</div><div class="t" style="left:389.1px;top:461.84px;font-size:10.0px;line-height:10.0px;font-weight:bold;letter-spacing:0.05px;">Terminal</div><div class="t" style="left:389.1px;top:471.84px;font-size:10.0px;line-height:10.0px;font-weight:bold;letter-spacing:0.05px;">Arrangement/Internal</div><div class="t" style="left:389.1px;top:481.84px;font-size:10.0px;line-height:10.0px;font-weight:bold;letter-spacing:0.05px;">Connections (Bottom View)</div><div class="t" style="left:527.0px;top:461.84px;font-size:10.0px;line-height:10.0px;font-weight:bold;letter-spacing:0.15px;">Mounting Holes</div><div class="t" style="left:527.0px;top:471.84px;font-size:10.0px;line-height:10.0px;font-weight:bold;letter-spacing:0.15px;">(Bottom View)</div><div class="t" style="left:527.0px;top:484.05px;font-size:10.1px;line-height:10.1px;">Tolerance: ±0.1 mm</div><div class="t" style="left:527.0px;top:493.85px;font-size:10.1px;line-height:10.1px;">unless specified</div><div class="t" style="left:391.3px;top:512.63px;font-size:10px;line-height:10px;font-weight:bold;">SPST-NO</div><div class="t" style="left:521.0px;top:512.63px;font-size:10px;line-height:10px;font-weight:bold;">SPST-NO</div><div class="t" style="left:111px;top:844.75px;font-size:10.1px;line-height:10.1px;font-weight:bold;">ALL DIMENSIONS SHOWN ARE IN MILLIMETRES.</div><div class="t" style="left:111px;top:857.17px;font-size:10.2px;line-height:10.2px;">To convert millimetres into inches, multiply by 0.03937. To convert grams into ounces, multiply by 0.03527.</div><div class="t" style="left:44.8px;top:883.08px;font-size:9.95px;line-height:9.95px;">CAT. No. K900-E2-01</div><div class="t" style="left:54.0px;top:899.02px;font-size:16.4px;line-height:16.4px;font-weight:bold;color:#fff;">96</div>
</body></html>
